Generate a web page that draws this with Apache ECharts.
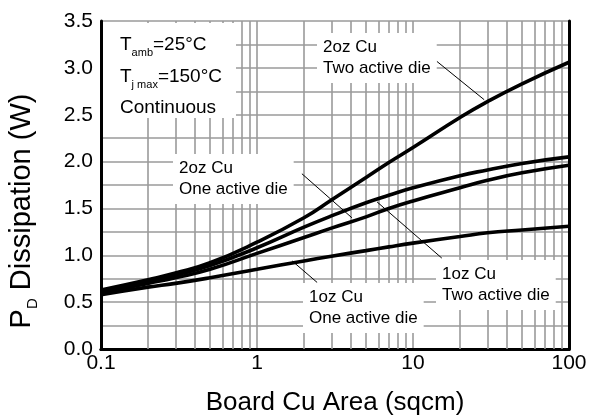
<!DOCTYPE html>
<html>
<head>
<meta charset="utf-8">
<script src="https://cdn.jsdelivr.net/npm/echarts@6/dist/echarts.min.js"></script>
<style>
html, body { margin: 0; padding: 0; background: #fff; }
#chart { width: 589px; height: 416px; }
</style>
</head>
<body>
<div id="chart"></div>
<script>
// board copper area (sqcm) and PD dissipation (W)
var area = [0.1, 0.2, 0.3, 0.5, 1, 2, 3, 5, 7, 10, 20, 30, 50, 100];
var oz2TwoDie = [0.63, 0.74, 0.81, 0.92, 1.14, 1.40, 1.59, 1.83, 1.99, 2.15, 2.47, 2.64, 2.83, 3.06];
var oz2OneDie = [0.62, 0.72, 0.79, 0.89, 1.08, 1.30, 1.42, 1.56, 1.64, 1.72, 1.85, 1.91, 1.98, 2.05];
var oz1TwoDie = [0.60, 0.70, 0.76, 0.85, 1.02, 1.19, 1.29, 1.41, 1.50, 1.58, 1.72, 1.80, 1.88, 1.96];
var oz1OneDie = [0.58, 0.66, 0.70, 0.76, 0.85, 0.94, 0.99, 1.05, 1.09, 1.13, 1.20, 1.24, 1.27, 1.31];

// log grid lines between the decades
var minorX = [0.2, 0.3, 0.4, 0.5, 0.6, 0.7, 0.8, 0.9,
              2, 3, 4, 5, 6, 7, 8, 9,
              20, 30, 40, 50, 60, 70, 80, 90];

// leader lines from the labels to the curves, in data units [area, W]
var leader2oz2 = [[14.2, 3.07], [28.6, 2.66]];
var leader2oz1 = [[1.94, 1.87], [4.06, 1.40]];
var leader1oz2 = [[5.88, 1.57], [15.3, 0.97]];
var leader1oz1 = [[1.68, 0.94], [2.43, 0.71]];

var FONT = 'Liberation Sans, Arial, sans-serif';
var GRID_COLOR = '#9a9a9a';

function pairs(xs, ys) {
    var out = [];
    for (var i = 0; i < xs.length; i++) {
        out.push([xs[i], ys[i]]);
    }
    return out;
}

function curve(name, values, leader) {
    return {
        name: name,
        type: 'line',
        data: pairs(area, values),
        smooth: 0.5,
        symbol: 'none',
        z: 3,
        lineStyle: { color: '#000', width: 3.6 },
        markLine: {
            silent: true,
            symbol: 'none',
            z: 4,
            label: { show: false },
            lineStyle: { color: '#000', width: 1, type: 'solid' },
            data: [[{ coord: leader[0] }, { coord: leader[1] }]]
        }
    };
}

function label(left, top, text) {
    return {
        type: 'text',
        left: left,
        top: top,
        z: 100,
        style: {
            text: text,
            fontFamily: FONT,
            fontSize: 17,
            lineHeight: 21,
            fill: '#000',
            backgroundColor: '#fff',
            padding: [4, 6]
        }
    };
}

var chart = echarts.init(document.getElementById('chart'));

var minorLines = [];
for (var i = 0; i < minorX.length; i++) {
    minorLines.push({ xAxis: minorX[i] });
}

var option = {
    animation: false,
    backgroundColor: '#fff',
    grid: { left: 101, right: 20, top: 21, bottom: 67, containLabel: false, outerBoundsMode: 'none' },
    xAxis: [{
        type: 'log',
        logBase: 10,
        min: 0.1,
        max: 100,
        name: 'Board Cu Area (sqcm)',
        nameLocation: 'middle',
        nameGap: 41,
        nameTextStyle: { fontFamily: FONT, fontSize: 26, color: '#000' },
        axisLine: { lineStyle: { color: '#000', width: 3 } },
        axisTick: { show: false },
        axisLabel: {
            fontFamily: FONT, fontSize: 21, color: '#000', margin: 4,
            formatter: function (v) { return v < 1 ? String(v) : String(Math.round(v)); }
        },
        splitLine: { show: true, lineStyle: { color: GRID_COLOR, width: 1.6 } }
    }, {
        type: 'log',
        logBase: 10,
        min: 0.1,
        max: 100,
        position: 'top',
        axisLine: { show: true, lineStyle: { color: '#000', width: 3 } },
        axisTick: { show: false },
        axisLabel: { show: false },
        splitLine: { show: false }
    }],
    yAxis: [{
        type: 'value',
        min: 0,
        max: 3.5,
        interval: 0.5,
        axisLine: { show: true, lineStyle: { color: '#000', width: 3 } },
        axisTick: { show: false },
        axisLabel: {
            fontFamily: FONT, fontSize: 21, color: '#000', margin: 8,
            formatter: function (v) { return v.toFixed(1); }
        },
        splitLine: { show: true, lineStyle: { color: GRID_COLOR, width: 1.6 } },
        minorTick: { show: false, splitNumber: 2 },
        minorSplitLine: { show: true, lineStyle: { color: GRID_COLOR, width: 1.6 } }
    }, {
        type: 'value',
        min: 0,
        max: 3.5,
        interval: 0.5,
        position: 'right',
        axisLine: { show: true, lineStyle: { color: '#000', width: 3 } },
        axisTick: { show: false },
        axisLabel: { show: false },
        splitLine: { show: false }
    }],
    series: [
        {
            name: 'grid',
            type: 'line',
            data: [],
            z: 1,
            markLine: {
                silent: true,
                symbol: 'none',
                z: 1,
                label: { show: false },
                lineStyle: { color: GRID_COLOR, width: 1.6, type: 'solid' },
                data: minorLines
            }
        },
        curve('2oz Cu Two active die', oz2TwoDie, leader2oz2),
        curve('2oz Cu One active die', oz2OneDie, leader2oz1),
        curve('1oz Cu Two active die', oz1TwoDie, leader1oz2),
        curve('1oz Cu One active die', oz1OneDie, leader1oz1)
    ],
    graphic: [
        {
            type: 'rect',
            z: 100,
            shape: { x: 103, y: 23, width: 133, height: 95 },
            style: { fill: '#fff' }
        },
        {
            type: 'text', x: 120, y: 45, z: 101,
            style: {
                text: '{t|T}{s|amb}{t|=25°C}',
                verticalAlign: 'middle',
                rich: {
                    t: { fontFamily: FONT, fontSize: 19, lineHeight: 26, fill: '#000' },
                    s: { fontFamily: FONT, fontSize: 11, lineHeight: 11, verticalAlign: 'bottom', fill: '#000' }
                }
            }
        },
        {
            type: 'text', x: 120, y: 77, z: 101,
            style: {
                text: '{t|T}{s|j max}{t|=150°C}',
                verticalAlign: 'middle',
                rich: {
                    t: { fontFamily: FONT, fontSize: 19, lineHeight: 26, fill: '#000' },
                    s: { fontFamily: FONT, fontSize: 11, lineHeight: 11, verticalAlign: 'bottom', fill: '#000' }
                }
            }
        },
        {
            type: 'text', x: 120, y: 108, z: 101,
            style: {
                text: 'Continuous',
                fontFamily: FONT, fontSize: 19, fill: '#000',
                verticalAlign: 'middle'
            }
        },
        label(317, 33, '2oz Cu\nTwo active die'),
        label(173, 154, '2oz Cu\nOne active die'),
        label(436, 260, '1oz Cu\nTwo active die'),
        label(303, 283, '1oz Cu\nOne active die'),
        {
            type: 'text', x: 22, y: 211, z: 101,
            rotation: Math.PI / 2,
            style: {
                text: '{t|P}{s|D}{t| Dissipation (W)}',
                align: 'center',
                verticalAlign: 'middle',
                rich: {
                    t: { fontFamily: FONT, fontSize: 29, lineHeight: 36, fill: '#000' },
                    s: { fontFamily: FONT, fontSize: 15, lineHeight: 15, verticalAlign: 'bottom', fill: '#000' }
                }
            }
        }
    ]
};

chart.setOption(option);
</script>
</body>
</html>
